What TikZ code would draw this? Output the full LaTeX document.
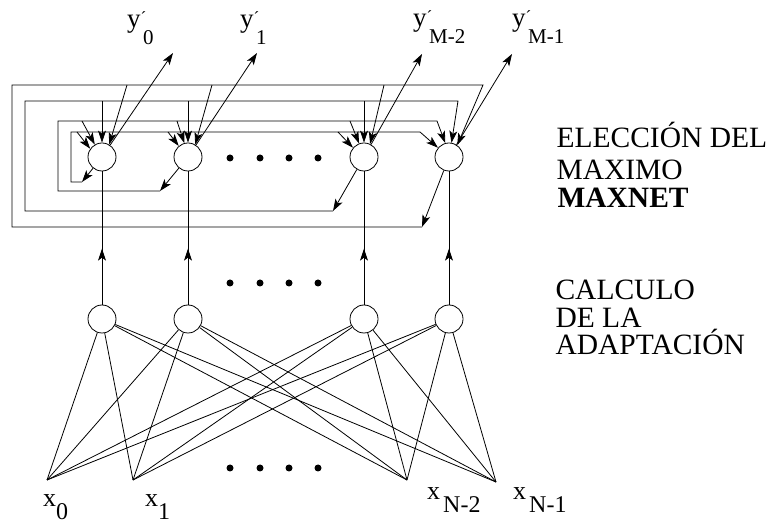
\documentclass[tikz,border=0pt]{standalone}
\usepackage{fontspec}
\setmainfont{Liberation Serif}
\usetikzlibrary{arrows.meta,decorations.markings,calc}

\newcommand{\ylab}[1]{\fontsize{27}{27}\selectfont y\makebox[0pt][l]{\raisebox{4pt}{\fontsize{17}{17}\selectfont\symbol{"00B4}}}\kern2.5pt\raisebox{-17pt}{\fontsize{21}{21}\selectfont #1}}
\newcommand{\xlab}[2]{\fontsize{26}{26}\selectfont x#1\raisebox{-13pt}{\fontsize{24}{24}\selectfont #2}}

\begin{document}
\begin{tikzpicture}[x=1pt,y=-1pt,
  neuron/.style={circle,draw,line width=0.8pt,minimum size=28pt,inner sep=0pt,fill=white},
  wire/.style={line width=0.8pt},
  arr/.style={wire,-{Stealth[length=12pt,width=8pt,inset=3pt]}},
  upmark/.style={wire,postaction={decorate},decoration={markings,
     mark=at position 0.42 with {\arrow{Stealth[length=12pt,width=8pt,inset=3pt]}}}},
  caption/.style={anchor=base west,font=\fontsize{29.5}{30}\selectfont},
  dot/.style={circle,fill=black,inner sep=0pt,minimum size=7pt}
]
\useasboundingbox (0,0) rectangle (766,526);

% top (MAXNET) neurons
\node[neuron] (t0) at (102,157) {};
\node[neuron] (t1) at (188,157) {};
\node[neuron] (t2) at (364,157) {};
\node[neuron] (t3) at (449,157) {};
% bottom neurons
\node[neuron] (b0) at (102,319) {};
\node[neuron] (b1) at (188,319) {};
\node[neuron] (b2) at (364,319) {};
\node[neuron] (b3) at (449,319) {};

% inputs
\coordinate (x0) at (47,480);
\coordinate (x1) at (133,480);
\coordinate (x2) at (407,480);
\coordinate (x3) at (496,482);

\foreach \i in {0,1,2,3}{
  \foreach \j in {0,1,2,3}{
    \draw[wire] (x\i) -- (b\j);
  }
  \draw[upmark] (b\i) -- (t\i);
}

% output tips
\coordinate (o0) at (173,53);
\coordinate (o1) at (257,53);
\coordinate (o2) at (422,54);
\coordinate (o3) at (512,54);
\foreach \i in {0,1,2,3}{ \draw[arr] (t\i) -- (o\i); }

% feedback loops
\coordinate (fA) at (82,182);  \coordinate (cA) at (71,132);  \coordinate (eA) at (420,132);
\coordinate (fB) at (160,191); \coordinate (cB) at (58,121);  \coordinate (eB) at (437,121);
\coordinate (fC) at (333,211); \coordinate (cC) at (25,101);  \coordinate (eC) at (458,101);
\coordinate (fD) at (422,227); \coordinate (cD) at (12,85);   \coordinate (eD) at (483,85);

\draw[arr] (t0) -- (fA);
\draw[arr] (t1) -- (fB);
\draw[arr] (t2) -- (fC);
\draw[arr] (t3) -- (fD);

\draw[arr] (fA) -| (cA) -- (eA) -- (t3.140);
\draw[arr] (fB) -| (cB) -- (eB) -- (t3.105);
\draw[arr] (fC) -| (cC) -- (eC) -- (t3.80);
\draw[arr] (fD) -| (cD) -- (eD) -- (t3.55);

% branches to node 0
\draw[arr] ($(t0|-cD)+(25,0)$) -- (t0.60);
\draw[arr] (t0|-cC) -- (t0.90);
\draw[arr] ($(t0|-cB)+(-20,0)$) -- (t0.120);
\draw[arr] ($(t0|-cA)+(-25,0)$) -- (t0.145);
% branches to node 1
\draw[arr] ($(t1|-cD)+(24,0)$) -- (t1.60);
\draw[arr] (t1|-cC) -- (t1.90);
\draw[arr] ($(t1|-cB)+(-11,0)$) -- (t1.105);
\draw[arr] ($(t1|-cA)+(-20,0)$) -- (t1.130);
% branches to node M-2
\draw[arr] ($(t2|-cD)+(20,0)$) -- (t2.65);
\draw[arr] (t2|-cC) -- (t2.90);
\draw[arr] ($(t2|-cB)+(-14,0)$) -- (t2.110);
\draw[arr] ($(t2|-cA)+(-26,0)$) -- (t2.140);

% dots
\foreach \x in {230,260,289,318}{
  \node[dot] at (\x,158) {};
  \node[dot] at (\x,283) {};
  \node[dot] at (\x,468) {};
}

% output labels
\node[anchor=base west,inner sep=0pt] (ly0) at (127,28) {\ylab{0}};
\node[anchor=base west,inner sep=0pt] (ly1) at (240,28) {\ylab{1}};
\node[anchor=base west,inner sep=0pt] (ly2) at (413,27) {\ylab{M-2}};
\node[anchor=base west,inner sep=0pt] (ly3) at (512,27) {\ylab{M-1}};

% input labels
\node[anchor=base west,inner sep=0pt] (lx0) at (43,507) {\xlab{}{0}};
\node[anchor=base west,inner sep=0pt] (lx1) at (145,507) {\xlab{}{1}};
\node[anchor=base west,inner sep=0pt] (lx2) at (427,500) {\xlab{\kern3pt}{N-2}};
\node[anchor=base west,inner sep=0pt] (lx3) at (513,500) {\xlab{\kern3pt}{N-1}};

% captions
\node[caption] (e1) at (553,148) {ELECCIÓN DEL};
\node[caption] (e2) at (553,180) {MAXIMO};
\node[caption] (e3) at (554,208) {\bfseries MAXNET};
\node[caption] (c1) at (552,300) {CALCULO};
\node[caption] (c2) at (552,328) {DE LA};
\node[caption] (c3) at (552,355) {ADAPTACIÓN};
\end{tikzpicture}
\end{document}
